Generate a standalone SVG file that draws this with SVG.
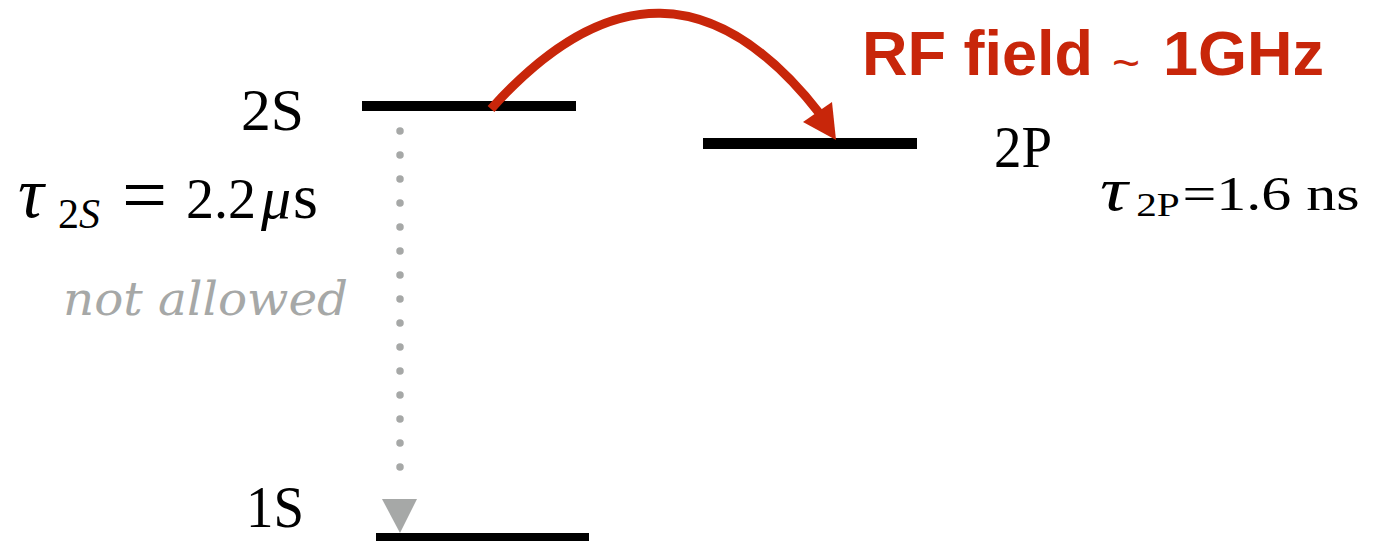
<svg xmlns="http://www.w3.org/2000/svg" width="1378" height="541" viewBox="0 0 1378 541">
<style>
.lvl{fill:#000}
.tm{font-family:"Liberation Serif","Times New Roman",serif;fill:#000}
.red{fill:#c8260a}
.gray{fill:#a6a8a7}
</style>
<rect width="1378" height="541" fill="#fff"/>
<g id="level-2S">
<rect class="lvl" x="362" y="101" width="214" height="10"/>
<text class="tm" x="241" y="130" font-size="60" textLength="63" lengthAdjust="spacingAndGlyphs">2S</text>
</g>
<g id="level-2P">
<rect class="lvl" x="703" y="138" width="214" height="11"/>
<text class="tm" x="994" y="167" font-size="59" textLength="58" lengthAdjust="spacingAndGlyphs">2P</text>
</g>
<g id="level-1S">
<rect class="lvl" x="376" y="533" width="213" height="10"/>
<text class="tm" x="246" y="527" font-size="59" textLength="58" lengthAdjust="spacingAndGlyphs">1S</text>
</g>
<g id="tau-2S">
<text class="tm" font-size="56"><tspan x="18" y="217" font-style="italic" font-size="72">τ</tspan><tspan x="58" y="228" font-size="42">2</tspan><tspan font-size="42" font-style="italic">S</tspan><tspan x="122" y="222" font-size="80">=</tspan><tspan x="186" y="218">2.2</tspan><tspan x="261" y="218" font-style="italic" font-size="60">μ</tspan><tspan x="293" y="218" font-size="64">s</tspan></text>
</g>
<g id="tau-2P">
<text class="tm" font-size="48" transform="translate(1100,210) scale(1.25,1)"><tspan x="0" y="0" font-style="italic" font-size="62">τ</tspan><tspan x="29" y="6" font-size="33">2P</tspan><tspan x="66" y="0">=1.6</tspan><tspan x="165" y="0">ns</tspan></text>
</g>
<g id="rf-label">
<text class="red" font-family="Liberation Sans,Arial,sans-serif" font-weight="bold" font-size="63"><tspan x="862" y="75">RF field</tspan><tspan x="1112" y="79" font-size="48" font-weight="normal">~</tspan><tspan x="1163" y="75">1GHz</tspan></text>
</g>
<g id="not-allowed-label">
<text class="gray" x="63" y="315" font-family="DejaVu Serif,serif" font-style="italic" font-size="46" textLength="285" lengthAdjust="spacingAndGlyphs">not allowed</text>
</g>
<g id="connectors">
<line x1="400" y1="131" x2="400" y2="491" stroke="#a6a8a7" stroke-width="7.5" stroke-linecap="round" stroke-dasharray="0 24"/>
<polygon points="382,499 417,499 400,533" fill="#a6a8a7"/>
<path d="M491,109 Q665,-85 820,114" fill="none" stroke="#c8260a" stroke-width="9"/>
<polygon points="836,140 803,122 832,102" fill="#c8260a"/>
</g>
</svg>
